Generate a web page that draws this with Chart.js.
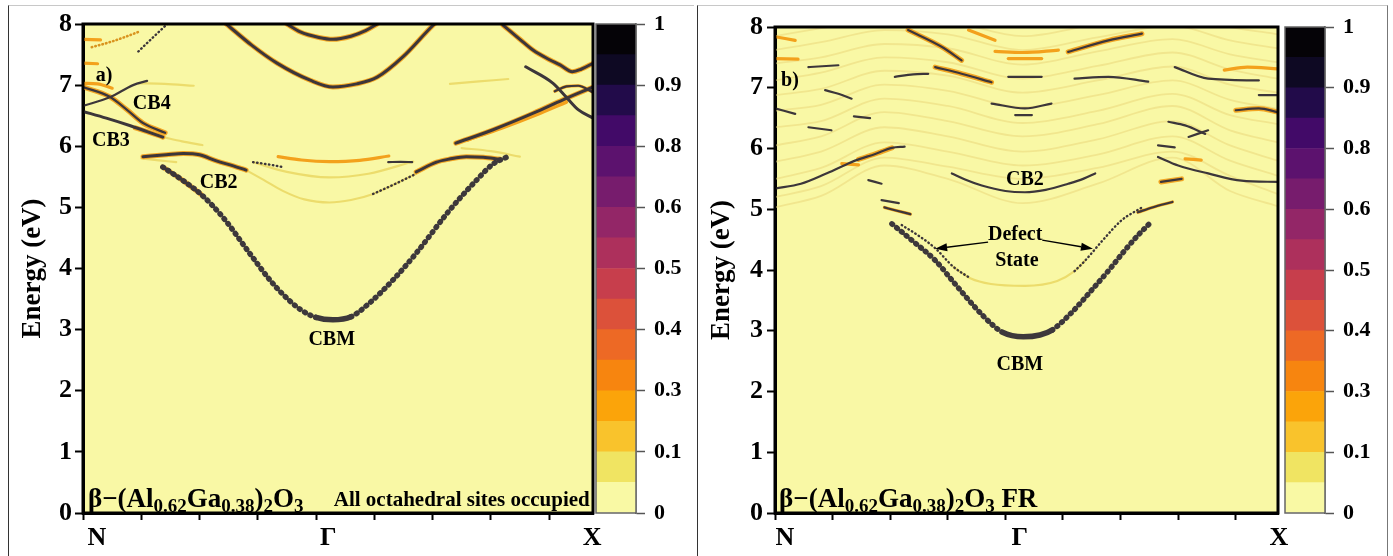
<!DOCTYPE html>
<html>
<head>
<meta charset="utf-8">
<script src="https://cdn.jsdelivr.net/npm/chart.js@4.4.1/dist/chart.umd.min.js"></script>
<style>
  html, body { margin: 0; padding: 0; background: #fff; }
  body { width: 1393px; height: 556px; position: relative; overflow: hidden; }
  canvas { position: absolute; top: 0; }
  .frame { position: absolute; box-sizing: border-box; }
</style>
</head>
<body>
<div class="frame" style="left:8px;top:5px;width:686px;height:560px;border-left:1.5px solid #333;border-top:1px solid #c8c8c8;"></div>
<div class="frame" style="left:697px;top:5px;width:691px;height:560px;border-left:1.5px solid #333;border-top:1px solid #c8c8c8;border-right:1.5px solid #777;"></div>
<canvas id="bandA" width="612" height="556" style="left:0px"></canvas>
<canvas id="cbarA" width="100" height="556" style="left:590px"></canvas>
<canvas id="bandB" width="600" height="556" style="left:697px"></canvas>
<canvas id="cbarB" width="100" height="556" style="left:1279px"></canvas>
<script>
// ---------- axes ----------
const kTicks = [0, 1, 2, 3, 4, 5, 6, 7, 8];
const eTicks = [0, 0.5, 1, 1.5, 2, 2.5, 3, 3.5, 4, 4.5, 5, 5.5, 6, 6.5, 7, 7.5, 8];
const kPointNames = ['N', 'Γ', 'X'];
const kPointPosA = [0.24, 4.21, 8.74];
const kPointPosB = [0.17, 4.25, 8.75];

// ---------- colour scale (spectral weight, bottom to top) ----------
const cbarEdges = [0, 0.0625, 0.125, 0.1875, 0.25, 0.3125, 0.375, 0.4375, 0.5,
                   0.5625, 0.625, 0.6875, 0.75, 0.8125, 0.875, 0.9375, 1];
const cbarColors = ['#f9f9a4', '#f0e462', '#f9c32c', '#fba40a', '#f7850f', '#ed6925',
                    '#dc513a', '#c73e4c', '#ad305c', '#932667', '#771c6d', '#5c126e',
                    '#420a68', '#220b4a', '#0e0923', '#050307'];
const cbarTickValues = [0, 0.125, 0.25, 0.375, 0.5, 0.625, 0.75, 0.875, 1];
const cbarTickLabels = ['0', '0.1', '0.3', '0.4', '0.5', '0.6', '0.8', '0.9', '1'];

// ---------- panel a: all octahedral sites occupied ----------
const cbmA = [[1.37,5.66],[1.7,5.45],[2.03,5.21],[2.4,4.84],[2.86,4.25],[3.21,3.81],[3.44,3.57],[3.73,3.33],[4.0,3.2],[4.29,3.16],[4.6,3.21],[4.9,3.42],[5.32,3.81],[5.72,4.25],[6.29,4.95],[6.75,5.44],[7.04,5.71],[7.27,5.82]];
const cbmTopA = [[1.37,5.66],[1.7,5.45],[2.03,5.21]];
const cb2LeftA = [[1.03,5.83],[1.43,5.86],[1.72,5.88],[2.0,5.86],[2.29,5.76],[2.58,5.68],[2.8,5.61]];
const lowGammaA = [[2.8,5.61],[3.1,5.45],[3.43,5.27],[3.8,5.13],[4.23,5.08],[4.6,5.12],[4.98,5.22],[5.35,5.38],[5.72,5.55]];
const lowGammaDotsA = [[4.98,5.22],[5.35,5.38],[5.72,5.55]];
const cb2RightA = [[5.72,5.58],[6.07,5.74],[6.29,5.79],[6.58,5.83],[6.87,5.82],[7.15,5.79]];
const gammaOrangeA = [[3.35,5.83],[3.75,5.775],[4.23,5.75],[4.75,5.77],[5.25,5.84]];
const midGammaA = [[2.92,5.74],[3.5,5.58],[4.23,5.49],[4.9,5.55],[5.67,5.75]];
const midGammaDotsA = [[2.92,5.74],[3.2,5.7],[3.43,5.66]];
const midRightDashA = [[5.24,5.74],[5.45,5.745],[5.65,5.74]];
const cb3A = [[0,6.57],[0.4,6.46],[0.8,6.34],[1.1,6.24],[1.37,6.15]];
const cb3GlowA = [[0.9,6.3],[1.1,6.24],[1.37,6.15]];
const cb3TailA = [[1.37,6.15],[1.7,6.08],[2.05,6.02]];
const cb4A = [[0,6.97],[0.46,6.81],[0.75,6.6],[1.03,6.38],[1.41,6.22]];
const riseLeftA = [[0,6.66],[0.46,6.8],[0.86,7.0],[1.1,7.07]];
const orangeLeftA = [[0,7.03],[0.25,7.02],[0.5,6.95]];
const beadLeftA = [[0.95,7.55],[1.2,7.78],[1.47,8.02]];
const dotLeftA = [[0.15,7.62],[0.45,7.7],[0.7,7.78],[0.95,7.87]];
const topLeft1A = [[0,7.75],[0.3,7.74]];
const topLeft2A = [[0,7.36],[0.25,7.35]];
const gammaLowerA = [[2.46,8.0],[2.9,7.65],[3.33,7.36],[3.9,7.08],[4.29,6.97],[4.7,7.02],[5.05,7.13],[5.5,7.47],[6.01,7.98],[6.07,8.03]];
const gammaUpperA = [[3.5,8.0],[3.73,7.87],[4.05,7.78],[4.29,7.75],[4.6,7.8],[4.85,7.89],[5.05,8.0]];
const xTopA = [[7.21,7.98],[7.5,7.75],[7.73,7.57],[8.0,7.42],[8.19,7.33],[8.4,7.22],[8.55,7.26],[8.76,7.36]];
const xDescA = [[7.6,7.3],[8.07,7.03],[8.3,6.8],[8.5,6.6],[8.76,6.46]];
const xRiseA = [[6.4,6.05],[7.04,6.27],[7.73,6.54],[8.24,6.76],[8.76,6.97]];
const xRise2A = [[6.6,6.1],[7.2,6.3],[7.8,6.52],[8.3,6.72]];
const xLoopA = [[8.1,6.9],[8.3,6.98],[8.5,6.99],[8.76,6.88]];
const faint7A = [[6.3,7.02],[6.8,7.06],[7.3,7.1]];
const faint6A = [[6.5,5.97],[7.0,5.92],[7.5,5.83]];
const faintLeft7A = [[0.95,7.03],[1.4,7.02],[1.9,6.99]];
const faintLeft58A = [[1.0,5.8],[1.3,5.77],[1.6,5.74]];

// ---------- panel b: FR configuration ----------
const cbmB = [[2.03,4.76],[2.4,4.47],[2.78,4.16],[3.1,3.8],[3.47,3.39],[3.75,3.12],[3.94,2.98],[4.31,2.9],[4.6,2.93],[4.81,3.01],[5.15,3.3],[5.5,3.67],[5.8,4.0],[6.08,4.33],[6.3,4.57],[6.51,4.77]];
const defectLeftB = [[2.2,4.74],[2.5,4.56],[2.78,4.36],[3.1,4.05],[3.4,3.86]];
const defectMidB = [[3.1,4.05],[3.4,3.86],[3.75,3.77],[4.34,3.74],[4.9,3.82],[5.2,3.98],[5.38,4.15]];
const defectRightB = [[5.2,3.98],[5.38,4.15],[5.7,4.5],[6.02,4.82],[6.37,5.03]];
const defectTopLB = [[1.9,5.03],[2.1,4.98],[2.35,4.92]];
const defectTopRB = [[6.3,4.95],[6.55,5.03],[6.9,5.12]];
const cb2B = [[3.07,5.59],[3.3,5.49],[3.59,5.39],[4.0,5.3],[4.34,5.28],[4.7,5.32],[5.09,5.42],[5.35,5.5],[5.56,5.59]];
const leftArcB = [[0,5.34],[0.45,5.42],[0.87,5.58],[1.15,5.7],[1.39,5.8],[1.74,5.91],[2.03,6.01],[2.25,6.03]];
const leftArcGlowB = [[1.45,5.82],[1.74,5.91],[2.03,6.01]];
const rightArcB = [[6.65,5.86],[7.0,5.72],[7.52,5.59],[8.1,5.47],[8.73,5.45]];

const waveK = [0, 0.8, 1.9, 3.0, 4.3, 5.6, 6.9, 7.9, 8.73];
const waveE = [
  [5.03,5.22,5.72,5.5,5.1,5.42,5.85,5.3,5.05],
  [5.2,5.38,5.85,5.7,5.5,5.68,5.95,5.55,5.25],
  [5.5,5.68,6.1,5.95,5.72,5.9,6.2,5.8,5.55],
  [5.78,5.95,6.35,6.2,5.95,6.15,6.45,6.05,5.8],
  [6.05,6.2,6.6,6.45,6.2,6.4,6.7,6.3,6.1],
  [6.35,6.45,6.82,6.7,6.42,6.62,6.9,6.55,6.4],
  [6.62,6.72,7.05,6.95,6.68,6.88,7.12,6.8,6.65],
  [6.88,6.98,7.28,7.2,6.92,7.12,7.35,7.05,6.92],
  [7.12,7.25,7.5,7.42,7.15,7.36,7.58,7.3,7.15],
  [7.4,7.5,7.72,7.65,7.38,7.6,7.8,7.55,7.42],
  [7.62,7.75,7.95,7.88,7.62,7.83,8.02,7.78,7.65],
  [7.85,7.98,8.15,8.1,7.85,8.05,8.2,8.0,7.88]
];

const segOrangeB = [
  [[0,7.84],[0.35,7.78]],
  [[0,7.48],[0.4,7.47]],
  [[3.36,7.95],[3.82,7.78]],
  [[3.82,7.6],[4.3,7.58],[4.92,7.62]],
  [[4.05,7.48],[4.63,7.48]],
  [[7.8,7.29],[8.2,7.34],[8.73,7.31]],
  [[7.12,5.83],[7.4,5.81]],
  [[1.16,5.75],[1.45,5.73]]
];
const segDarkB = [
  [[0.58,7.34],[1.1,7.37]],
  [[0.87,6.96],[1.1,6.9],[1.33,6.82]],
  [[2.08,7.18],[2.4,7.22],[2.66,7.23]],
  [[3.76,6.74],[4.34,6.66],[4.8,6.74]],
  [[4.17,6.55],[4.46,6.55]],
  [[4.05,7.18],[4.63,7.18]],
  [[5.2,7.15],[5.79,7.18],[6.48,7.1]],
  [[6.94,7.34],[7.52,7.15],[8.4,7.12]],
  [[7.18,6.19],[7.52,6.3]],
  [[6.65,6.05],[6.94,6.02]],
  [[0,6.66],[0.35,6.57]],
  [[0.58,6.35],[0.98,6.3]],
  [[1.37,6.53],[1.65,6.5]],
  [[1.62,5.48],[1.85,5.42]],
  [[1.85,5.15],[2.15,5.1]],
  [[6.83,6.44],[7.12,6.38],[7.47,6.24]],
  [[8.4,6.88],[8.73,6.88]]
];
const segMixedB = [
  [[2.78,7.34],[3.24,7.23],[3.76,7.09]],
  [[2.31,7.95],[2.9,7.67],[3.24,7.45]],
  [[5.09,7.59],[5.79,7.78],[6.37,7.89]],
  [[8.0,6.63],[8.4,6.66],[8.73,6.6]],
  [[6.7,5.45],[7.06,5.5]]
];

// ---------- drawing styles ----------
const SERIF = '"Liberation Serif", "Times New Roman", serif';
const BG = '#f9f8a5';
const STYLES = {
  wave:   { color: '#f1e68e', width: 1.8 },
  faint:  { color: '#ecdc6c', width: 2.2 },
  orange: { color: '#f3a11c', width: 3.2 },
  glow:   { color: '#f2a624', width: 5 },
  dark:   { color: '#3c363a', width: 3 },
  thin:   { color: '#3c363a', width: 2.2 },
  bead:   { color: '#3d383b', width: 5.5, bead: true },
  dots:   { color: '#3c363a', width: 2.4, dash: [0.5, 3.5] },
  odots:  { color: '#d9941e', width: 2.6, dash: [0.5, 3.2] }
};

// later entries of a list are painted over earlier ones
function toDatasets(list) {
  const n = list.length;
  return list.map(([kind, pts], i) => {
    const s = STYLES[kind];
    const ds = {
      data: pts.map(p => ({ x: p[0], y: p[1] })),
      borderColor: s.color,
      borderWidth: s.width,
      borderDash: s.dash || [],
      borderCapStyle: 'round',
      borderJoinStyle: 'round',
      pointRadius: 0,
      pointHoverRadius: 0,
      cubicInterpolationMode: 'monotone',
      fill: false,
      clip: 0,
      order: n - i
    };
    if (s.bead) {
      // beaded look where the band is steep, solid near the minimum
      ds.segment = {
        borderDash: c => (Math.abs(c.p1.y - c.p0.y) > 0.5 * Math.abs(c.p1.x - c.p0.x) ? [0.8, 5.4] : [])
      };
    }
    return ds;
  });
}

const bandsA = [
  ['faint', lowGammaA], ['faint', midGammaA], ['faint', cb3TailA], ['faint', faint7A],
  ['faint', faint6A], ['faint', faintLeft7A], ['faint', faintLeft58A],
  ['glow', cbmTopA], ['glow', cb2LeftA], ['glow', cb2RightA], ['glow', cb3GlowA],
  ['glow', cb4A], ['glow', gammaLowerA], ['glow', gammaUpperA], ['glow', xTopA], ['glow', xRiseA],
  ['orange', gammaOrangeA], ['orange', orangeLeftA], ['orange', topLeft1A], ['orange', topLeft2A],
  ['orange', xRise2A], ['orange', xLoopA], ['odots', dotLeftA],
  ['bead', cbmA], ['dark', cbmTopA], ['dark', cb2LeftA], ['dark', cb2RightA], ['dots', lowGammaDotsA],
  ['dots', midGammaDotsA], ['thin', midRightDashA], ['dark', cb3A], ['thin', cb4A],
  ['thin', riseLeftA], ['dots', beadLeftA], ['dark', gammaLowerA], ['dark', gammaUpperA],
  ['dark', xTopA], ['dark', xDescA], ['dark', xRiseA], ['thin', xLoopA]
];

const bandsB = [].concat(
  waveE.map(row => ['wave', waveK.map((k, i) => [k, row[i]])]),
  [['faint', defectMidB], ['glow', leftArcGlowB]],
  segMixedB.map(s => ['glow', s]),
  segOrangeB.map(s => ['orange', s]),
  [['orange', defectTopLB], ['orange', defectTopRB]],
  [['bead', cbmB], ['dots', defectLeftB], ['dots', defectRightB], ['thin', cb2B],
   ['thin', leftArcB], ['thin', rightArcB], ['thin', defectTopLB], ['thin', defectTopRB]],
  segDarkB.map(s => ['thin', s]),
  segMixedB.map(s => ['thin', s])
);

// ---------- text helpers ----------
function font(size) { return 'bold ' + size + 'px ' + SERIF; }

function drawFormula(ctx, x, y, parts) {
  ctx.textAlign = 'left';
  ctx.textBaseline = 'alphabetic';
  let cx = x;
  parts.forEach(([t, sub]) => {
    ctx.font = font(sub ? 19 : 27);
    ctx.fillText(t, cx, sub ? y + 5 : y);
    cx += ctx.measureText(t).width;
  });
}

function drawArrow(ctx, x0, y0, x1, y1) {
  ctx.strokeStyle = '#000';
  ctx.fillStyle = '#000';
  ctx.lineWidth = 1.3;
  const ang = Math.atan2(y1 - y0, x1 - x0);
  const hl = 12, hw = 4;
  const bx = x1 - hl * Math.cos(ang), by = y1 - hl * Math.sin(ang);
  ctx.beginPath(); ctx.moveTo(x0, y0); ctx.lineTo(bx, by); ctx.stroke();
  ctx.beginPath();
  ctx.moveTo(x1, y1);
  ctx.lineTo(bx + hw * Math.sin(ang), by - hw * Math.cos(ang));
  ctx.lineTo(bx - hw * Math.sin(ang), by + hw * Math.cos(ang));
  ctx.closePath(); ctx.fill();
}

const formulaBase = [['β−(Al', 0], ['0.62', 1], ['Ga', 0], ['0.38', 1], [')', 0], ['2', 1], ['O', 0], ['3', 1]];

function decorPlugin(cfg) {
  return {
    id: 'decor',
    beforeDraw(chart) {
      const { ctx, chartArea: a } = chart;
      ctx.save();
      ctx.fillStyle = BG;
      ctx.fillRect(a.left, a.top, a.right - a.left, a.bottom - a.top);
      ctx.restore();
    },
    afterDraw(chart) {
      const { ctx, chartArea: a, scales } = chart;
      const X = v => scales.x.getPixelForValue(v);
      const Y = v => scales.y.getPixelForValue(v);
      ctx.save();
      ctx.strokeStyle = '#000';
      ctx.lineWidth = 3;
      ctx.strokeRect(a.left, a.top, a.right - a.left, a.bottom - a.top);

      ctx.fillStyle = '#000';
      ctx.font = font(26);
      ctx.textAlign = 'center';
      ctx.textBaseline = 'middle';
      kPointNames.forEach((n, i) => ctx.fillText(n, X(cfg.kPos[i]), a.bottom + 25));

      ctx.font = font(20);
      cfg.labels.forEach(l => ctx.fillText(l.t, X(l.k), Y(l.e)));

      drawFormula(ctx, X(cfg.formula.k), Y(cfg.formula.e), cfg.formula.parts);

      if (cfg.note) {
        ctx.font = font(21);
        ctx.textAlign = 'right';
        ctx.textBaseline = 'alphabetic';
        ctx.fillText(cfg.note.t, X(cfg.note.k), Y(cfg.note.e));
      }
      (cfg.arrows || []).forEach(ar => drawArrow(ctx, X(ar[0]), Y(ar[1]), X(ar[2]), Y(ar[3])));
      ctx.restore();
    }
  };
}

function bandChart(id, cfg) {
  const tickGrid = { drawOnChartArea: false, drawTicks: true, tickLength: 8, tickWidth: 2, tickColor: '#000' };
  return new Chart(document.getElementById(id), {
    type: 'line',
    data: { datasets: toDatasets(cfg.bands) },
    options: {
      responsive: false, animation: false, events: [],
      layout: { padding: { left: 0, top: cfg.top, right: cfg.right, bottom: 0 } },
      plugins: { legend: { display: false }, tooltip: { enabled: false } },
      scales: {
        x: {
          type: 'linear', min: 0, max: cfg.kMax,
          afterBuildTicks: s => { s.ticks = kTicks.map(v => ({ value: v })); },
          afterFit: s => { s.height = 556 - cfg.bottomPx; },
          grid: Object.assign({}, tickGrid, { tickLength: 7 }),
          border: { display: true, color: '#000', width: 3 },
          ticks: { display: false }
        },
        y: {
          type: 'linear', min: 0, max: 8,
          afterBuildTicks: s => { s.ticks = eTicks.map(v => ({ value: v })); },
          afterFit: s => { s.width = cfg.yAxisW; },
          grid: tickGrid,
          border: { display: true, color: '#000', width: 3 },
          ticks: {
            font: { family: SERIF, size: 26, weight: 'bold' }, color: '#000', padding: cfg.tickPad,
            callback: v => (Number.isInteger(v) ? String(v) : '')
          },
          title: {
            display: true, text: 'Energy (eV)', color: '#000',
            font: { family: SERIF, size: 27, weight: 'bold' },
            padding: { top: cfg.titlePad, bottom: 0 }
          }
        }
      }
    },
    plugins: [decorPlugin(cfg)]
  });
}

function cbarChart(id, top) {
  return new Chart(document.getElementById(id), {
    type: 'bar',
    data: {
      labels: [''],
      datasets: cbarColors.map((c, i) => ({
        data: [[cbarEdges[i], cbarEdges[i + 1]]],
        backgroundColor: c, borderWidth: 0,
        barPercentage: 1, categoryPercentage: 1, grouped: false
      }))
    },
    options: {
      responsive: false, animation: false, events: [],
      layout: { padding: { left: 6, top: top, bottom: 43, right: 0 } },
      plugins: { legend: { display: false }, tooltip: { enabled: false } },
      scales: {
        x: { display: false },
        y: {
          position: 'right', min: 0, max: 1,
          afterBuildTicks: s => { s.ticks = cbarTickValues.map(v => ({ value: v })); },
          afterFit: s => { s.width = 54; },
          grid: { drawOnChartArea: false, drawTicks: true, tickLength: 9, tickWidth: 1.5, tickColor: '#555' },
          border: { display: true, color: '#555', width: 1.5 },
          ticks: {
            font: { family: SERIF, size: 22, weight: 'bold' }, color: '#000', padding: 9,
            callback: (v, i) => cbarTickLabels[i]
          }
        }
      }
    },
    plugins: [{
      id: 'outline',
      afterDraw(chart) {
        const { ctx, chartArea: a } = chart;
        ctx.save();
        ctx.strokeStyle = '#666';
        ctx.lineWidth = 1.5;
        ctx.strokeRect(a.left, a.top, a.right - a.left, a.bottom - a.top);
        ctx.restore();
      }
    }]
  });
}

bandChart('bandA', {
  bands: bandsA, kMax: 8.755, kPos: kPointPosA,
  top: 24, right: 19, bottomPx: 513, yAxisW: 83, tickPad: 3, titlePad: 17,
  labels: [
    { t: 'a)', k: 0.36, e: 7.15 },
    { t: 'CB4', k: 1.18, e: 6.69 },
    { t: 'CB3', k: 0.48, e: 6.09 },
    { t: 'CB2', k: 2.33, e: 5.40 },
    { t: 'CBM', k: 4.27, e: 2.83 }
  ],
  formula: { k: 0.086, e: 0.1, parts: formulaBase },
  note: { t: 'All octahedral sites occupied', k: 8.7, e: 0.115 }
});

bandChart('bandB', {
  bands: bandsB, kMax: 8.733, kPos: kPointPosB,
  top: 27, right: 19, bottomPx: 513, yAxisW: 78, tickPad: 4, titlePad: 9,
  labels: [
    { t: 'b)', k: 0.26, e: 7.11 },
    { t: 'CB2', k: 4.34, e: 5.48 },
    { t: 'Defect', k: 4.17, e: 4.58 },
    { t: 'State', k: 4.2, e: 4.15 },
    { t: 'CBM', k: 4.25, e: 2.44 }
  ],
  formula: { k: 0.07, e: 0.1, parts: formulaBase.concat([[' FR', 0]]) },
  arrows: [[3.7, 4.46, 2.78, 4.35], [4.64, 4.49, 5.52, 4.35]]
});

cbarChart('cbarA', 24);
cbarChart('cbarB', 27);
</script>
</body>
</html>
